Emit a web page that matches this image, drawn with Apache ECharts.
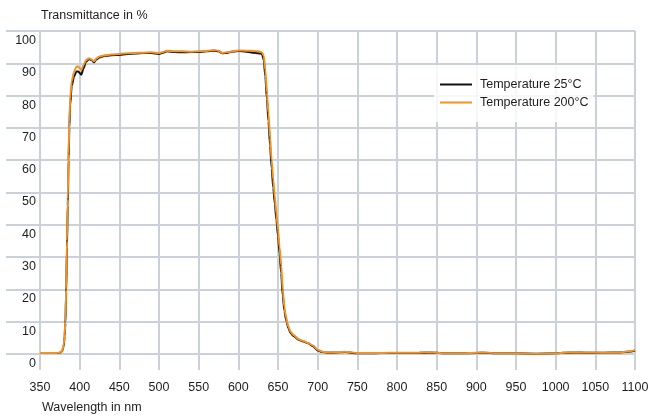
<!DOCTYPE html>
<html>
<head>
<meta charset="utf-8">
<title>Transmittance vs wavelength</title>
<script src="https://cdn.jsdelivr.net/npm/echarts@6/dist/echarts.min.js"></script>
<style>
  html, body { margin: 0; padding: 0; background: #ffffff; }
  #chart { width: 660px; height: 417px; }
</style>
</head>
<body>
<div id="chart"></div>
<script>
// Measured spectral transmittance of the filter at two temperatures
const wavelengthNm = [
  350, 360, 370, 375, 378, 380, 381, 382, 383, 384, 385, 386, 387, 388, 390, 393, 396, 398,
  400, 402, 405, 408, 412, 415, 418, 421, 425, 430, 440, 450, 460, 470, 480, 490, 500, 505,
  510, 520, 530, 540, 550, 560, 570, 575, 580, 585, 590, 600, 610, 620, 625, 628, 630, 632,
  634, 636, 638, 640, 642, 644, 646, 648, 650, 652, 654, 656, 658, 660, 663, 666, 670, 676,
  682, 688, 694, 700, 706, 712, 720, 735, 750, 765, 780, 800, 820, 840, 860, 880, 900, 910,
  925, 950, 975, 1000, 1020, 1040, 1060, 1080, 1095, 1100
];

const transmittance25C = [
  0.3, 0.3, 0.3, 0.4, 0.9, 2.6, 5.5, 9.5, 19, 33, 46, 60, 70, 77, 83, 86, 87.5, 87.5,
  87.0, 86.5, 88.5, 90.5, 91.3, 91.0, 90.3, 91.2, 91.8, 92.2, 92.5, 92.6, 92.9, 93.0, 93.2, 93.2, 92.9, 93.3,
  93.7, 93.5, 93.4, 93.5, 93.5, 93.7, 93.9, 93.7, 93.1, 93.2, 93.5, 93.8, 93.6, 93.3, 93.1, 93.0, 92.8, 91.0,
  86, 79, 72, 64.5, 57.5, 51.5, 46.5, 41.5, 36.5, 31, 25, 18, 13.5, 10.8, 8.0, 6.4, 5.5, 4.4,
  3.9, 3.3, 2.4, 1.1, 0.6, 0.5, 0.5, 0.6, 0.2, 0.2, 0.3, 0.3, 0.3, 0.5, 0.2, 0.2, 0.3, 0.4,
  0.2, 0.2, 0.1, 0.2, 0.5, 0.4, 0.4, 0.5, 0.8, 1.1
];

const transmittance200C = [
  0.3, 0.3, 0.3, 0.4, 1.0, 3, 6, 10, 20, 35, 48, 62, 72, 79, 84.5, 87.5, 89, 89,
  88.5, 88, 89.5, 91, 91.6, 91.2, 90.6, 91.5, 92.1, 92.4, 92.7, 92.9, 93.1, 93.2, 93.3, 93.4, 93.2, 93.5,
  93.9, 93.7, 93.7, 93.6, 93.7, 93.8, 94.1, 93.9, 93.2, 93.4, 93.6, 94.0, 93.9, 93.8, 93.7, 93.6, 93.3, 92.3,
  88, 81, 74.5, 67, 60, 54, 48.5, 43.5, 38.5, 33, 27.5, 20, 14.5, 11.5, 8.5, 6.8, 5.8, 4.6,
  4.0, 3.4, 2.6, 1.3, 0.7, 0.6, 0.6, 0.7, 0.3, 0.3, 0.3, 0.4, 0.4, 0.6, 0.2, 0.2, 0.4, 0.5,
  0.2, 0.2, 0.1, 0.2, 0.6, 0.5, 0.4, 0.5, 0.9, 1.2
];

const seriesNames = ['Temperature 25°C', 'Temperature 200°C'];
const seriesColors = ['#111111', '#f39325'];
const axisTitleX = 'Wavelength in nm';
const axisTitleY = 'Transmittance in %';

const FONT = '"Liberation Sans", Arial, Helvetica, sans-serif';
const TEXT_COLOR = '#1e1e1e';
const GRID_COLOR = '#c9d2d8';

const pairs = (xs, ys) => xs.map((x, i) => [x, ys[i]]);

const chart = echarts.init(document.getElementById('chart'), null, { renderer: 'canvas' });

chart.setOption({
  animation: false,
  backgroundColor: '#ffffff',
  textStyle: { fontFamily: FONT },
  grid: [
    // horizontal rules, running out to the left margin
    { left: 6, right: 25, top: 31, bottom: 63 },
    // vertical rules, running down past the zero line
    { left: 40, right: 25, top: 31, bottom: 47 },
    // plotting area
    { left: 40, right: 25, top: 31, bottom: 63 }
  ],
  xAxis: [
    { gridIndex: 0, type: 'value', min: 0, max: 1, show: false },
    {
      gridIndex: 1, type: 'value', min: 350, max: 1100, interval: 50,
      axisLine: { show: false }, axisTick: { show: false },
      splitLine: { show: true, lineStyle: { color: GRID_COLOR, width: 2 } },
      axisLabel: {
        margin: 11, fontSize: 12.5, color: TEXT_COLOR, fontFamily: FONT,
        formatter: (v) => String(v)
      }
    },
    { gridIndex: 2, type: 'value', min: 350, max: 1100, interval: 50, show: false }
  ],
  yAxis: [
    {
      gridIndex: 0, type: 'value', min: 0, max: 100, interval: 10,
      axisLine: { show: false }, axisTick: { show: false }, axisLabel: { show: false },
      splitLine: { show: true, lineStyle: { color: GRID_COLOR, width: 2 } }
    },
    { gridIndex: 1, type: 'value', min: 0, max: 1, show: false },
    {
      gridIndex: 2, type: 'value', min: 0, max: 100, interval: 10,
      axisLine: { show: false }, axisTick: { show: false }, splitLine: { show: false },
      axisLabel: {
        margin: 4, fontSize: 12.5, color: TEXT_COLOR, fontFamily: FONT,
        verticalAlign: 'top', padding: [3, 0, 0, 0]
      }
    }
  ],
  legend: {
    orient: 'vertical',
    left: 434,
    top: 65,
    padding: [13, 5, 13, 6],
    backgroundColor: 'rgba(255,255,255,0.82)',
    itemWidth: 32,
    itemHeight: 2,
    itemGap: 5,
    icon: 'rect',
    data: seriesNames,
    textStyle: { fontSize: 12.5, color: TEXT_COLOR, fontFamily: FONT, padding: [0, 0, 0, 3] }
  },
  graphic: [
    {
      type: 'text', left: 41, top: 9,
      style: { text: axisTitleY, font: '12.5px ' + FONT, fill: TEXT_COLOR }
    },
    {
      type: 'text', left: 42, top: 401,
      style: { text: axisTitleX, font: '12.5px ' + FONT, fill: TEXT_COLOR }
    }
  ],
  series: seriesNames.map((name, k) => ({
    name: name,
    type: 'line',
    xAxisIndex: 2,
    yAxisIndex: 2,
    data: pairs(wavelengthNm, k === 0 ? transmittance25C : transmittance200C),
    symbol: 'none',
    smooth: 0.25,
    smoothMonotone: 'x',
    itemStyle: { color: seriesColors[k] },
    lineStyle: { color: seriesColors[k], width: 2 },
    z: 3 + k
  }))
});
</script>
</body>
</html>
